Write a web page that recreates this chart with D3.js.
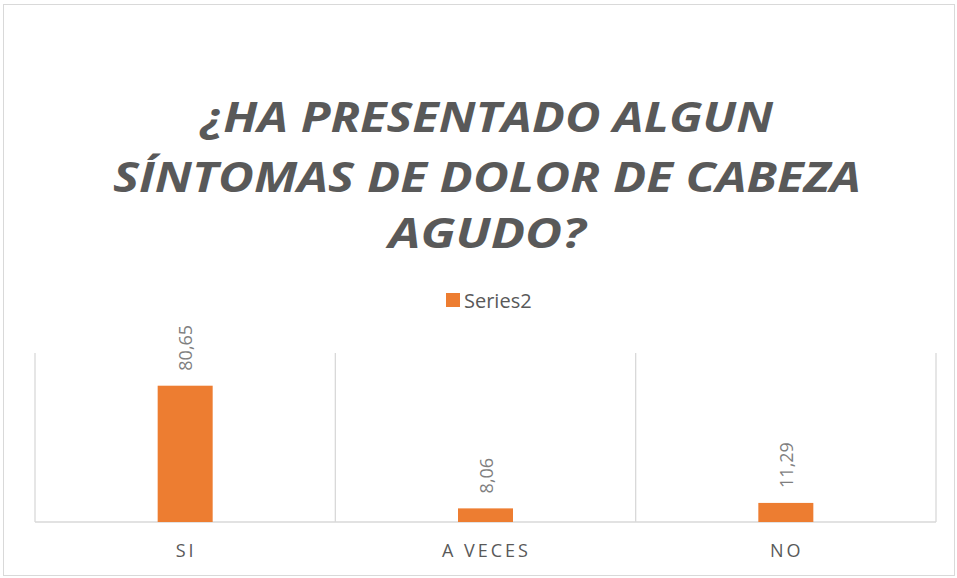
<!doctype html>
<html lang="es">
  <head>
    <meta charset="utf-8">
    <title>Dolor de cabeza agudo</title>
    <style>
      * { margin: 0; padding: 0; }
      body { width: 957px; height: 578px; overflow: hidden; background: #fff; }
      text { font-family: "Open Sans", "Liberation Sans", sans-serif; }
    </style>
    <script src="https://cdn.jsdelivr.net/npm/d3@7"></script>
  </head>
  <body>
    <svg id="chart" width="957" height="578"></svg>

    <script>
      // data
      const categories = ["SI", "A VECES", "NO"];
      const values = [80.65, 8.06, 11.29];
      const valueLabels = ["80,65", "8,06", "11,29"];
      const seriesName = "Series2";
      const titleLines = ["¿HA PRESENTADO ALGUN", "SÍNTOMAS DE DOLOR DE CABEZA", "AGUDO?"];

      const orange = "#ED7D31";
      const textGray = "#595959";
      const gridGray = "#d9d9d9";

      const svg = d3.select("#chart");

      // outer chart border
      svg.append("rect")
        .attr("x", 3.5).attr("y", 4.5)
        .attr("width", 951).attr("height", 571)
        .attr("fill", "#fff")
        .attr("stroke", "#d9d9d9");

      // title, three centred lines; widths fitted to the original
      const titleWidths = [572, 748, 197];
      const titleBase = [132, 192, 248];
      svg.append("g").selectAll("text")
        .data(titleLines)
        .join("text")
          .attr("x", 487)
          .attr("y", (d, i) => titleBase[i])
          .attr("text-anchor", "middle")
          .attr("font-size", 42)
          .attr("font-weight", 700)
          .attr("font-style", "italic")
          .attr("fill", textGray)
          .attr("textLength", (d, i) => titleWidths[i])
          .attr("lengthAdjust", "spacingAndGlyphs")
          .text(d => d);

      // legend
      const legend = svg.append("g").attr("transform", "translate(446,293)");
      legend.append("rect").attr("width", 14).attr("height", 14).attr("fill", orange);
      legend.append("text")
        .attr("x", 18).attr("y", 15)
        .attr("font-size", 20)
        .attr("fill", textGray)
        .text(seriesName);

      // plot area
      const plot = { left: 35, right: 936, top: 353, bottom: 522 };

      const x = d3.scaleBand()
        .domain(categories)
        .range([plot.left, plot.right])
        .paddingInner(0)
        .paddingOuter(0);

      const y = d3.scaleLinear()
        .domain([0, 100])
        .range([plot.bottom, plot.top]);

      // vertical category dividers
      const edges = categories.map(c => x(c)).concat([plot.right]);
      svg.append("g").selectAll("line")
        .data(edges)
        .join("line")
          .attr("x1", d => d).attr("x2", d => d)
          .attr("y1", plot.top).attr("y2", plot.bottom)
          .attr("stroke", gridGray)
          .attr("stroke-width", 1.3);

      // baseline
      svg.append("line")
        .attr("x1", plot.left).attr("x2", plot.right)
        .attr("y1", plot.bottom).attr("y2", plot.bottom)
        .attr("stroke", gridGray)
        .attr("stroke-width", 1.3);

      const barW = 55;
      const cx = c => x(c) + x.bandwidth() / 2;

      svg.append("g").selectAll("rect")
        .data(values)
        .join("rect")
          .attr("x", (d, i) => cx(categories[i]) - barW / 2)
          .attr("y", d => y(d))
          .attr("width", barW)
          .attr("height", d => y(0) - y(d))
          .attr("fill", orange);

      // rotated value labels
      svg.append("g").selectAll("text")
        .data(values)
        .join("text")
          .attr("transform", (d, i) => `translate(${cx(categories[i]) + 7},${y(d) - 15}) rotate(-90)`)
          .attr("font-size", 18)
          .attr("fill", "#7f7f7f")
          .text((d, i) => valueLabels[i]);

      // category labels
      svg.append("g").selectAll("text")
        .data(categories)
        .join("text")
          .attr("x", d => cx(d) + 1)
          .attr("y", 557)
          .attr("text-anchor", "middle")
          .attr("font-size", 18)
          .attr("letter-spacing", 3)
          .attr("fill", textGray)
          .text(d => d);
    </script>
  </body>
</html>
